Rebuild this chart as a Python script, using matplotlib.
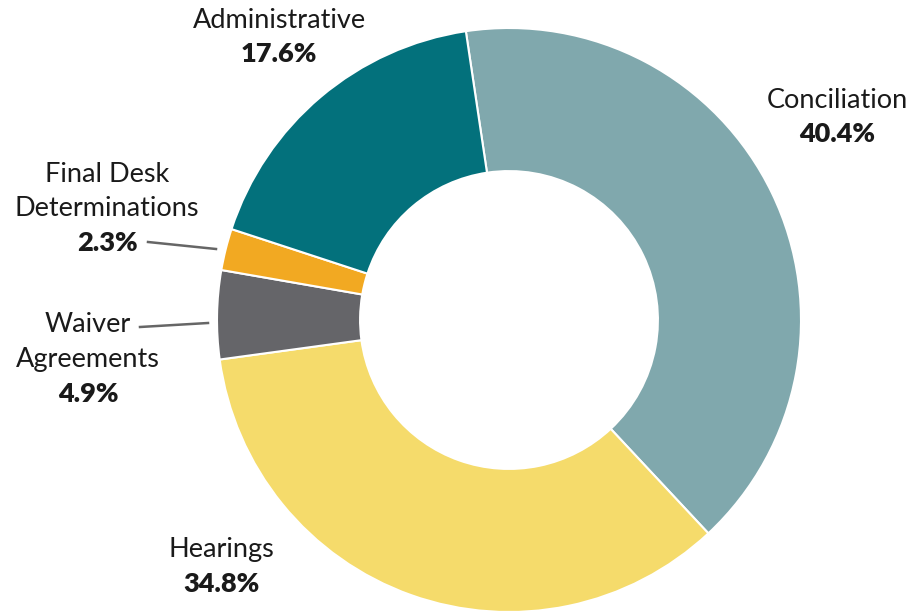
import matplotlib
matplotlib.use('Agg')
import matplotlib.pyplot as plt

plt.rcParams['font.family'] = ['Lato', 'DejaVu Sans']

# data, clockwise from the top
labels = ['Conciliation', 'Hearings', 'Waiver\nAgreements', 'Final Desk\nDeterminations', 'Administrative']
shares = [40.4, 34.8, 4.9, 2.3, 17.6]
colors = ['#80A8AD', '#F5DB6B', '#656569', '#F2A922', '#03717C']

fig = plt.figure(figsize=(9.15, 6.13), dpi=100)
ax = fig.add_axes([0, 0, 1, 1])

H = 613
cx, cy, r = 509, H - 320, 292
ax.pie(shares, colors=colors, startangle=98.5, counterclock=False,
       center=(cx, cy), radius=r, frame=True,
       wedgeprops=dict(width=r * 0.49, edgecolor='white', linewidth=1.5))
ax.set_xlim(0, 915)
ax.set_ylim(0, 613)
ax.set_aspect('equal')
ax.axis('off')

# label positions in pixels (x, y of first line)
label_pos = {
    'Conciliation': (837, 100),
    'Hearings': (221, 550),
    'Waiver\nAgreements': (88, 325),
    'Final Desk\nDeterminations': (107, 174),
    'Administrative': (279, 20),
}
fs = 19.5
step = 34.5
for lab, s in zip(labels, shares):
    x, y = label_pos[lab]
    lines = lab.split('\n')
    for i, ln in enumerate(lines):
        ax.text(x, H - (y + i * step), ln, ha='center', va='center',
                fontsize=fs, color='#1a1a1a')
    ax.text(x, H - (y + len(lines) * step), f'{s}%', ha='center', va='center',
            fontsize=fs, fontweight='heavy', color='#1a1a1a')

# leader lines for the small slices
ax.plot([148, 216], [H - 242, H - 249], color='#666666', lw=1.8)
ax.plot([140, 208], [H - 327, H - 323], color='#666666', lw=1.8)

fig.savefig('out.png', dpi=100)
